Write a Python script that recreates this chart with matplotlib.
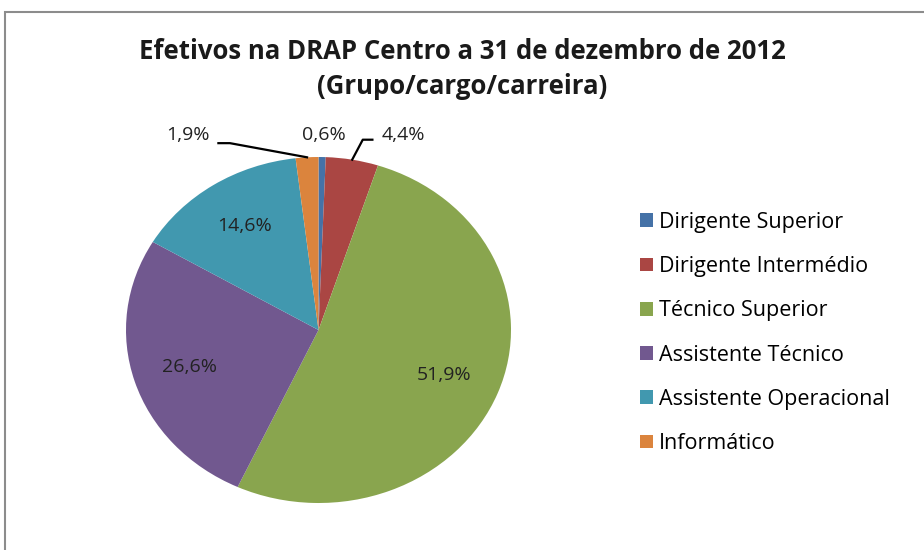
import numpy as np
import matplotlib.pyplot as plt
from matplotlib.patches import Rectangle

# data
categories = ['Dirigente Superior', 'Dirigente Intermédio', 'Técnico Superior',
              'Assistente Técnico', 'Assistente Operacional', 'Informático']
shares = [0.6, 4.4, 51.9, 26.6, 14.6, 1.9]
colors = ['#4572A7', '#AA4643', '#89A54E', '#71588F', '#4198AF', '#DB843D']
title = 'Efetivos na DRAP Centro a 31 de dezembro de 2012\n(Grupo/cargo/carreira)'

# label placement for the small slices (axes units, pie radius = 1)
outside = {0: (0.03, 1.13), 1: (0.44, 1.13), 5: (-0.68, 1.13)}
# leader elbows: (start x, end x, y)
leaders = {1: (0.28, 0.23, 1.10), 5: (-0.52, -0.46, 1.08)}

plt.rcParams['font.family'] = ['Open Sans', 'DejaVu Sans']

fig = plt.figure(figsize=(9.24, 5.5), dpi=100)
fig.patch.set_facecolor('white')

# border (only left/top visible in the crop)
fig.patches.append(Rectangle((5 / 924, -0.2), 1.2, (550 - 12) / 550 + 0.2,
                             transform=fig.transFigure, fill=False,
                             edgecolor='#8c8c8c', linewidth=1.5))

fig.text(0.5, 1 - 69 / 550, title, ha='center', va='center',
         fontsize=18.5, fontweight='bold', color='#1a1a1a', linespacing=1.35)

ax = fig.add_axes([126 / 924, 47 / 550, 385 / 924, 346 / 550])
wedges, _ = ax.pie(shares, colors=colors, startangle=90, counterclock=False,
                   radius=1, wedgeprops=dict(linewidth=0))
ax.set_aspect('auto')
ax.set_xlim(-1, 1)
ax.set_ylim(-1, 1)
ax.axis('off')

for i, (w, v) in enumerate(zip(wedges, shares)):
    mid = np.deg2rad((w.theta1 + w.theta2) / 2)
    txt = f'{v:.1f}%'.replace('.', ',')
    if i in outside:
        x, y = outside[i]
        ax.text(x, y, txt, ha='center', va='center', fontsize=14,
                color='#222222', clip_on=False)
        if i in leaders:
            x0, x1, ey = leaders[i]
            ax.plot([x0, x1, np.cos(mid)], [ey, ey, np.sin(mid)],
                    color='black', lw=1.6, clip_on=False)
    else:
        ax.text(0.7 * np.cos(mid), 0.72 * np.sin(mid), txt, ha='center',
                va='center', fontsize=14, color='#222222')

fig.legend(wedges, categories, loc='upper left', bbox_to_anchor=(629 / 924, 1 - 201 / 550),
           frameon=False, fontsize=15.5, handlelength=0.6, handleheight=0.6,
           handletextpad=0.3, labelspacing=1.08, borderpad=0)

fig.savefig('out.png', dpi=100, facecolor='white')
